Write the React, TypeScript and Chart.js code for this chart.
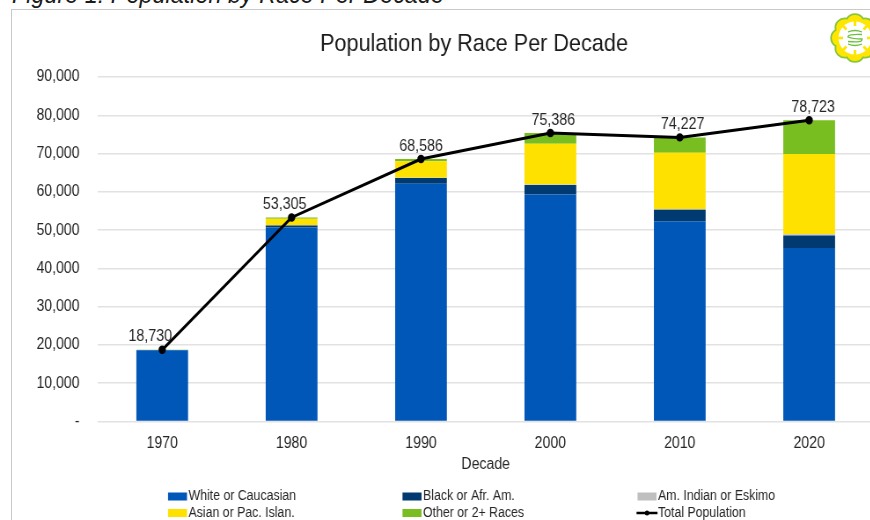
import React, { useEffect, useRef } from "react";
import { Chart, registerables } from "chart.js";

Chart.register(...registerables);

const decades = ["1970", "1980", "1990", "2000", "2010", "2020"];
const white = [18600, 50700, 62100, 59300, 52300, 45300];
const black = [50, 500, 1500, 2500, 3000, 3300];
const amIndian = [20, 100, 100, 150, 200, 300];
const asian = [30, 1700, 4300, 10600, 14700, 21000];
const other = [30, 305, 586, 2836, 4027, 8823];
const total = [18730, 53305, 68586, 75386, 74227, 78723];

const FONT = '"Liberation Sans", Arial, sans-serif';
const INK = "#262626";

// The canvas is drawn wider than it is shown, which condenses its lettering.
const SQUEEZE = 0.88;
const px = (v: number) => v / SQUEEZE;
const TOTAL_LABEL_SHIFT_X = [-12, -7, 0, 3, 3, 4];
const TOTAL_LABEL_LIFT = [13, 13, 12, 12, 13, 13];

const totalLabels = {
  id: "totalLabels",
  afterDatasetsDraw(chart: any) {
    const i = chart.data.datasets.length - 1;
    const points = chart.getDatasetMeta(i).data;
    const { ctx } = chart;
    ctx.save();
    ctx.font = `16.2px ${FONT}`;
    ctx.fillStyle = INK;
    ctx.textAlign = "center";
    ctx.textBaseline = "middle";
    points.forEach((p: any, k: number) => {
      ctx.fillText(total[k].toLocaleString("en-US"), p.x + px(TOTAL_LABEL_SHIFT_X[k]), p.y - TOTAL_LABEL_LIFT[k]);
    });
    ctx.restore();
  },
};

// Three-column legend under the axis, filled row by row from the datasets.
const columnLegend = {
  id: "columnLegend",
  afterDraw(chart: any) {
    const { ctx } = chart;
    const columns = [168, 402.5, 637.5];
    const rows = [496.5, 513];
    ctx.save();
    ctx.font = `14px ${FONT}`;
    ctx.textAlign = "left";
    ctx.textBaseline = "middle";
    chart.data.datasets.forEach((d: any, i: number) => {
      const x = px(columns[i % 3]);
      const y = rows[Math.floor(i / 3)];
      if (d.type === "line") {
        ctx.strokeStyle = d.borderColor;
        ctx.lineWidth = 2.5;
        ctx.beginPath();
        ctx.moveTo(x - px(1), y);
        ctx.lineTo(x + px(20), y);
        ctx.stroke();
        ctx.fillStyle = d.borderColor;
        ctx.beginPath();
        ctx.arc(x + px(9.5), y, 2.5, 0, Math.PI * 2);
        ctx.fill();
      } else {
        ctx.fillStyle = d.backgroundColor;
        ctx.fillRect(x, y - 4, px(19), 8);
      }
      ctx.fillStyle = INK;
      ctx.fillText(d.label, x + px(20.5), y);
    });
    ctx.restore();
  },
};

// The heading sits left of the canvas centre, so its box is moved after layout.
const titleShift = {
  id: "titleShift",
  afterLayout(chart: any) {
    const shift = px(474) - chart.width / 2;
    chart.titleBlock.left += shift;
    chart.titleBlock.right += shift;
  },
};

function Emblem() {
  const lobes = Array.from({ length: 8 }, (_, i) => (i * Math.PI) / 4);
  const outline = lobes
    .map((a, i) => {
      const b = a + Math.PI / 8;
      const x = (21 * Math.cos(b)).toFixed(2);
      const y = (21 * Math.sin(b)).toFixed(2);
      return `${i === 0 ? "M" : "A9.5 9.5 0 0 1"} ${x} ${y}`;
    })
    .join(" ");
  const d = `${outline} A9.5 9.5 0 0 1 ${(21 * Math.cos(Math.PI / 8)).toFixed(2)} ${(21 * Math.sin(Math.PI / 8)).toFixed(2)} Z`;
  return (
    <svg width="52" height="52" viewBox="-26 -26 52 52" style={{ position: "absolute", left: 829, top: 12 }}>
      <path d={d} fill="#ffe600" stroke="#8cc63f" strokeWidth={1.8} />
      <circle r={16.5} fill="#ffffff" />
      {lobes.map((a, i) => (
        <line key={i} x1={12 * Math.cos(a)} y1={12 * Math.sin(a)} x2={17 * Math.cos(a)} y2={17 * Math.sin(a)} stroke="#ffe600" strokeWidth={2.6} />
      ))}
      <path d="M-7 -6 Q0 -9 7 -6 M7 -3.5 Q-8 -4 -7 -1 Q-2 1 7 1 Q8 5 -7 3.5 M-7 6 Q0 9 7 6" fill="none" stroke="#6cbf3f" strokeWidth={1.3} />
    </svg>
  );
}

export default function App() {
  const ref = useRef<HTMLCanvasElement>(null);

  useEffect(() => {
    const chart = new Chart(ref.current as HTMLCanvasElement, {
      type: "bar",
      data: {
        labels: decades,
        datasets: [
          { type: "bar", label: "White or Caucasian", data: white, backgroundColor: "#0057b8", order: 2 },
          { type: "bar", label: "Black or Afr. Am.", data: black, backgroundColor: "#003a70", order: 2 },
          { type: "bar", label: "Am. Indian or Eskimo", data: amIndian, backgroundColor: "#bfbfbf", order: 2 },
          { type: "bar", label: "Asian or Pac. Islan.", data: asian, backgroundColor: "#ffe100", order: 2 },
          { type: "bar", label: "Other or 2+ Races", data: other, backgroundColor: "#78be20", order: 2 },
          {
            type: "line",
            label: "Total Population",
            data: total,
            borderColor: "#000000",
            backgroundColor: "#000000",
            borderWidth: 3,
            pointRadius: 2.7,
            tension: 0,
            order: 1,
          },
        ],
      } as any,
      options: {
        responsive: false,
        animation: false,
        devicePixelRatio: 1,
        datasets: { bar: { categoryPercentage: 0.4, barPercentage: 1 } },
        plugins: {
          legend: { display: false },
          tooltip: { enabled: false },
          title: {
            display: true,
            text: "Population by Race Per Decade",
            color: "#1a1a1a",
            font: { family: FONT, size: 24.6, weight: "normal", lineHeight: 1.2 },
            padding: { top: 29.5, bottom: 18 },
          },
        },
        scales: {
          x: {
            stacked: true,
            grid: { display: false },
            border: { display: false },
            ticks: { color: INK, font: { family: FONT, size: 16 }, padding: 4, maxRotation: 0 },
            title: {
              display: true,
              text: "Decade",
              color: INK,
              font: { family: FONT, size: 16 },
              padding: { top: 0, bottom: 46 },
            },
            afterFit(s: any) {
              s.height = 98.5;
            },
          },
          y: {
            stacked: true,
            min: 0,
            max: 90000,
            grid: { color: "#e2e2e2", lineWidth: 1.5, drawTicks: false },
            border: { display: false },
            ticks: {
              stepSize: 10000,
              color: INK,
              font: { family: FONT, size: 16 },
              padding: px(18),
              callback: (v: any) => (v === 0 ? "-" : Number(v).toLocaleString("en-US")),
            },
            afterFit(s: any) {
              s.width = px(97.5);
            },
          },
        },
      } as any,
      plugins: [totalLabels, columnLegend, titleShift],
    });
    return () => chart.destroy();
  }, []);

  return (
    <div style={{ position: "fixed", left: 0, top: 0, width: 870, height: 520, overflow: "hidden", background: "#ffffff" }}>
      <div
        style={{
          position: "absolute",
          left: 12,
          top: -18,
          fontFamily: FONT,
          fontStyle: "italic",
          fontSize: 26.6,
          lineHeight: "24px",
          color: "#1a1a1a",
          whiteSpace: "nowrap",
          transform: `scaleX(${SQUEEZE})`,
          transformOrigin: "left top",
        }}
      >
        Figure 1: Population by Race Per Decade
      </div>
      <div style={{ position: "absolute", left: 11, top: 9, width: 900, height: 560, border: "1.5px solid #c9c9c9" }} />
      <canvas
        ref={ref}
        width={1000}
        height={520}
        style={{ position: "absolute", left: 0, top: 0, width: 1000 * SQUEEZE, height: 520, display: "block" }}
      />
      <Emblem />
    </div>
  );
}
